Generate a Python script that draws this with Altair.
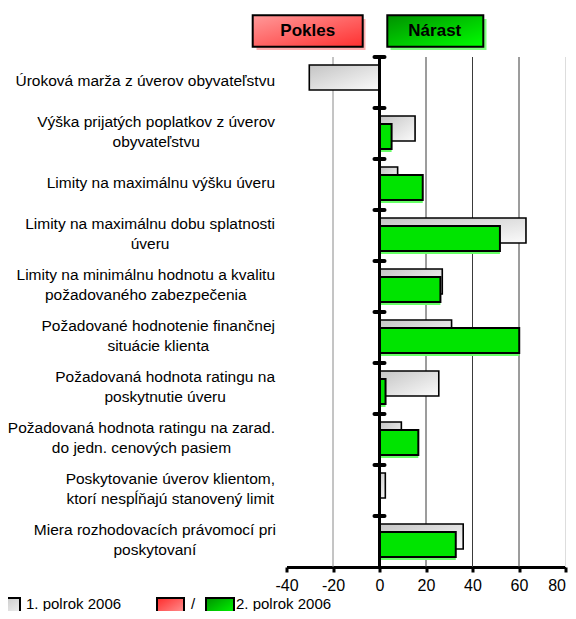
import altair as alt
import pandas as pd

categories = [
    "Úroková marža z úverov obyvateľstvu",
    "Výška prijatých poplatkov z úverov\nobyvateľstvu",
    "Limity na maximálnu výšku úveru",
    "Limity na maximálnu dobu splatnosti\núveru",
    "Limity na minimálnu hodnotu a kvalitu\npožadovaného zabezpečenia",
    "Požadované hodnotenie finančnej\nsituácie klienta",
    "Požadovaná hodnota ratingu na\nposkytnutie úveru",
    "Požadovaná hodnota ratingu na zarad.\ndo jedn. cenových pasiem",
    "Poskytovanie úverov klientom,\nktorí nespĺňajú stanovený limit",
    "Miera rozhodovacích právomocí pri\nposkytovaní",
]
h1_2006 = [-30.2, 15.3, 7.8, 63.0, 27.0, 31.0, 25.5, 9.4, 2.5, 36.0]
h2_2006 = [0, 5.2, 18.6, 51.8, 26.2, 60.1, 2.6, 16.7, 0, 32.8]
x_ticks = [-40, -20, 0, 20, 40, 60, 80]
grid_mid = [-20]
grid_dark = [20, 40, 60]
grid_light = [80]

LABEL_SIZE = 15.5
W = {
    "a": 556, "b": 556, "c": 500, "d": 556, "e": 556, "f": 278, "g": 556, "h": 556,
    "i": 222, "j": 222, "k": 500, "l": 222, "m": 833, "n": 556, "o": 556, "p": 556,
    "q": 556, "r": 333, "s": 500, "t": 278, "u": 556, "v": 500, "w": 722, "x": 500,
    "y": 500, "z": 500, " ": 278, ".": 278, ",": 278,
    "L": 556, "M": 833, "P": 667, "U": 722, "V": 667, "N": 722, "Ú": 722,
    "á": 556, "é": 556, "í": 222, "ó": 556, "ú": 556, "ý": 500, "ž": 500, "š": 500,
    "č": 500, "ľ": 292, "ĺ": 222, "ň": 556, "ô": 556,
}


def text_width(s, size):
    return max(sum(W.get(ch, 556) for ch in line) for line in s.split("\n")) * size / 1000.0


label_right = -11.5
label_x = [label_right - text_width(c, LABEL_SIZE) / 2 for c in categories]
n_lines = [c.count("\n") + 1 for c in categories]

df = pd.DataFrame({"cat": categories, "h1": h1_2006, "h2": h2_2006, "lx": label_x, "nl": n_lines})

y_enc = alt.Y("cat:N", sort=categories, axis=None,
              scale=alt.Scale(paddingInner=0, paddingOuter=0))
x_scale = alt.Scale(domain=[-40, 80], nice=False, zero=False)

base = alt.Chart(df)

gray_grad = alt.Gradient(
    gradient="linear",
    stops=[alt.GradientStop(color="#c4c4c4", offset=0), alt.GradientStop(color="#fbfbfb", offset=1)],
    x1=0, x2=1, y1=0, y2=1,
)

gridlines = []
for vals, col in ((grid_mid, "#8a8a8a"), (grid_dark, "#3a3a3a"), (grid_light, "#dddddd")):
    gridlines.append(
        alt.Chart(pd.DataFrame({"g": vals})).mark_rule(color=col, strokeWidth=1).encode(
            x=alt.X("g:Q", scale=x_scale)
        )
    )

gray_bars = base.mark_bar(height=25, yOffset=-5, fill=gray_grad, stroke="black", strokeWidth=1.6).encode(
    x=alt.X("h1:Q", scale=x_scale,
            axis=alt.Axis(values=x_ticks, title=None, grid=False, domainColor="black", domainWidth=3,
                          tickColor="black", tickWidth=3, tickSize=5, labelFontSize=16,
                          labelFont="Liberation Sans", labelColor="black", labelPadding=5,
                          labelFlush=False, labelExpr="'' + datum.value",
                          labelAlign={"condition": {"test": "datum.value == 80", "value": "right"},
                                      "value": "center"})),
    y=y_enc,
)

green_shadow = base.transform_filter("datum.h2 != 0").mark_bar(
    height=25, yOffset=6, fill="#66ff66", strokeWidth=0
).encode(x=alt.X("h2:Q", scale=x_scale), y=y_enc)

green_bars = base.transform_filter("datum.h2 != 0").mark_bar(
    height=25, yOffset=3, fill="#00e400", stroke="black", strokeWidth=2
).encode(x=alt.X("h2:Q", scale=x_scale), y=y_enc)

zero_line = base.mark_rule(color="black", strokeWidth=3).encode(x=alt.datum(0, scale=x_scale))

zero_ticks = base.mark_rule(color="black", strokeWidth=4, strokeCap="round", xOffset=-5, x2Offset=5).encode(
    x=alt.datum(0, scale=x_scale), x2=alt.datum(0),
    y=alt.Y("cat:N", sort=categories, axis=None, bandPosition=0,
            scale=alt.Scale(paddingInner=0, paddingOuter=0)),
)


def cat_labels(nl, dy):
    return base.transform_filter(f"datum.nl == {nl}").mark_text(
        align="center", baseline="middle", lineBreak="\n", lineHeight=20, dy=dy,
        fontSize=LABEL_SIZE, font="Liberation Sans", color="black",
    ).encode(
        x=alt.X("lx:Q", scale=None),
        y=y_enc,
        text="cat:N",
    )


labels_1 = cat_labels(1, -2)
labels_2 = cat_labels(2, -12)

one = alt.Chart(pd.DataFrame({"k": [0]}))


def box(x1, x2, y1, y2, fill, stroke="black", sw=2):
    return one.mark_rect(fill=fill, stroke=stroke, strokeWidth=sw).encode(
        x=alt.value(x1), x2=alt.value(x2), y=alt.value(y1), y2=alt.value(y2)
    )


def grad(c1, c2):
    return alt.Gradient(
        gradient="linear",
        stops=[alt.GradientStop(color=c1, offset=0), alt.GradientStop(color=c2, offset=1)],
        x1=0, x2=1, y1=0, y2=1,
    )


def label(x, y, txt, size=15, bold=False, align="left", baseline="alphabetic"):
    return one.mark_text(
        text=txt, fontSize=size, font="Liberation Sans", fontWeight="bold" if bold else "normal",
        align=align, baseline=baseline, color="black",
    ).encode(x=alt.value(x), y=alt.value(y))


top_legend = [
    box(-30, 79, -38, -7, "#ffb0b0", stroke=None, sw=0),
    box(104, 200, -38, -7, "#80ff80", stroke=None, sw=0),
    box(-33.8, 76.2, -41.7, -10.3, grad("#ff9a9a", "#ff3030")),
    box(100.8, 196.8, -41.7, -10.3, grad("#009000", "#00ff00")),
    label(21.2, -26, "Pokles", size=17, bold=True, align="center", baseline="middle"),
    label(148.3, -26, "Nárast", size=17, bold=True, align="center", baseline="middle"),
]

bottom_legend = [
    box(-292, -266.5, 541, 558, grad("#c0c0c0", "#f2f2f2")),
    label(-260.5, 551.5, "1. polrok 2006"),
    box(-129.5, -102.5, 541, 558, grad("#ff2a2a", "#ff9a9a")),
    label(-93.5, 551.5, "/", align="center"),
    box(-80.5, -52.5, 541, 558, grad("#009000", "#00ff00")),
    label(-50.5, 551.5, "2. polrok 2006"),
]

chart = alt.layer(
    *gridlines, gray_bars, green_shadow, green_bars, zero_line, zero_ticks, labels_1, labels_2,
    *top_legend, *bottom_legend,
).properties(
    width=279, height=510,
    autosize=alt.AutoSizeParams(type="none"),
    padding={"left": 278.5, "top": 49, "right": 2.5, "bottom": 44},
    background="white",
).configure_view(stroke=None)

chart.save("out.html", embed_options={"renderer": "svg", "actions": False})
